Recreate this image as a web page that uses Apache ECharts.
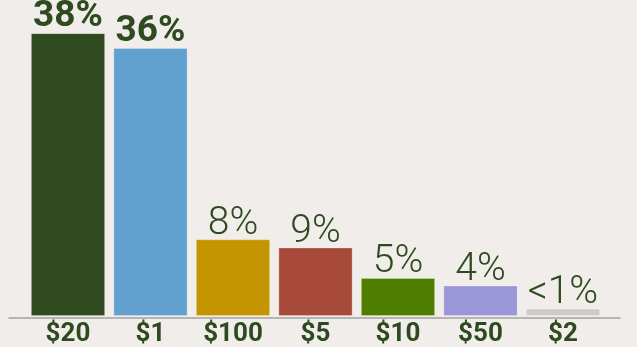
<!DOCTYPE html>
<html><head><meta charset="utf-8">
<script src="https://cdn.jsdelivr.net/npm/echarts@6/dist/echarts.min.js"></script>
<style>html,body{margin:0;padding:0;background:#f0edea;}#c{width:637px;height:347px;}</style>
</head><body><div id="c"></div>
<script>
const categories = ["$20", "$1", "$100", "$5", "$10", "$50", "$2"];
const values = [38, 36, 10.3, 9.2, 5.1, 4.1, 1.0];
const valueLabels = ["38%", "36%", "8%", "9%", "5%", "4%", "<1%"];
const colors = ["#2e4a1e", "#62a0d0", "#c49500", "#a84a3a", "#4f7d00", "#9b96d8", "#cccccc"];
const boldLabels = [true, true, false, false, false, false, false];

const chart = echarts.init(document.getElementById('c'), null, {renderer: 'canvas'});
const labelColor = '#2e4a1e';
chart.setOption({
  backgroundColor: '#f0edea',
  animation: false,
  grid: [
    {left: 26.75, right: 32.75, top: 0, height: 317.5, containLabel: false},
    {left: 9, right: 17, top: 0, height: 317.5, containLabel: false}
  ],
  xAxis: [
    {type: 'category', data: categories, gridIndex: 0,
     axisLine: {show: false}, axisTick: {show: false},
     axisLabel: {margin: 5, color: labelColor, fontFamily: 'Roboto', fontWeight: 'bold', fontSize: 26}},
    {type: 'value', gridIndex: 1, min: 0, max: 1,
     axisLine: {show: true, lineStyle: {color: '#a3a3a3', width: 1.5}},
     axisTick: {show: false}, axisLabel: {show: false}, splitLine: {show: false}}
  ],
  yAxis: [
    {type: 'value', gridIndex: 0, min: 0, max: 42.45, show: false, splitLine: {show: false}},
    {type: 'value', gridIndex: 1, min: 0, max: 1, show: false, splitLine: {show: false}}
  ],
  series: [{
    type: 'bar',
    xAxisIndex: 0, yAxisIndex: 0,
    barCategoryGap: '10%',
    data: values.map((v, i) => ({
      value: v,
      itemStyle: {color: colors[i], borderColor: 'rgba(255,255,255,0.25)', borderWidth: 1},
      label: {
        show: true, position: 'top', distance: boldLabels[i] ? -2 : -4,
        formatter: valueLabels[i],
        color: labelColor, fontFamily: 'Roboto',
        fontSize: boldLabels[i] ? 37 : 39,
        fontWeight: boldLabels[i] ? 'bold' : 300
      }
    }))
  }]
});
</script></body></html>
